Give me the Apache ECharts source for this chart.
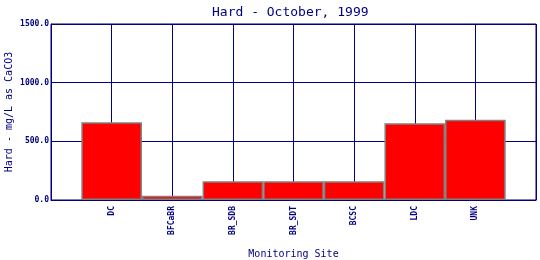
<!DOCTYPE html>
<html>
<head>
<meta charset="utf-8">
<script src="https://cdn.jsdelivr.net/npm/echarts@6/dist/echarts.min.js"></script>
<style>html,body{margin:0;padding:0;background:#fff}#c{width:540px;height:260px}</style>
</head>
<body>
<div id="c"></div>
<script>
var categories = ['DC', 'BFCaBR', 'BR_SDB', 'BR_SDT', 'BCSC', 'LDC', 'UNK'];
var values = [662, 37, 159, 159, 159, 654, 685];
var yTicks = [0, 500, 1000, 1500];

var navy = '#000080';
var font = 'DejaVu Sans Mono';
var axisCats = [''].concat(categories).concat(['']);
var axisVals = [null].concat(values).concat([null]);

var chart = echarts.init(document.getElementById('c'), null, {renderer: 'canvas'});
chart.setOption({
  animation: false,
  backgroundColor: '#fff',
  title: {
    text: 'Hard - October, 1999',
    left: 207, top: 1,
    textStyle: {color: navy, fontFamily: font, fontSize: 13, fontWeight: 'normal'}
  },
  grid: {left: 51, right: 4, top: 24, bottom: 60, show: true, borderColor: navy, borderWidth: 1,
    containLabel: false, outerBoundsMode: 'none'},
  xAxis: {
    type: 'category',
    data: axisCats,
    boundaryGap: false,
    name: 'Monitoring Site',
    nameLocation: 'middle',
    nameGap: 49,
    nameTextStyle: {color: navy, fontFamily: font, fontSize: 10},
    axisLine: {lineStyle: {color: navy, width: 1}},
    axisTick: {show: false},
    axisLabel: {rotate: 90, color: navy, fontFamily: font, fontSize: 8, fontWeight: 'bold', margin: 6, interval: 0},
    splitLine: {show: true, lineStyle: {color: navy, width: 1}}
  },
  yAxis: {
    type: 'value',
    min: yTicks[0], max: yTicks[yTicks.length - 1], interval: 500,
    name: 'Hard - mg/L as CaCO3',
    nameLocation: 'middle',
    nameGap: 37,
    nameMoveOverlap: false,
    nameTextStyle: {color: navy, fontFamily: font, fontSize: 10},
    axisLine: {show: true, lineStyle: {color: navy, width: 1}},
    axisTick: {show: false},
    axisLabel: {color: navy, fontFamily: font, fontSize: 8, fontWeight: 'bold', margin: 2,
      formatter: function (v) { return v.toFixed(1); }},
    splitLine: {show: true, lineStyle: {color: navy, width: 1}}
  },
  series: [{
    type: 'bar',
    data: axisVals,
    barCategoryGap: '0%',
    itemStyle: {color: '#ff0000', borderColor: '#808080', borderWidth: 1.5}
  }]
});
</script>
</body>
</html>
